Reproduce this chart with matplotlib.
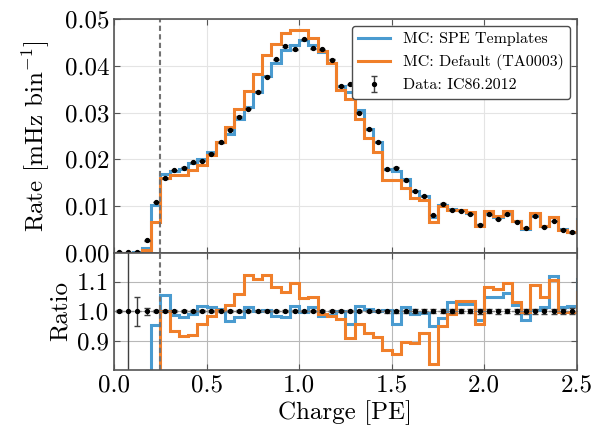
import numpy as np
import matplotlib
matplotlib.use('Agg')
import matplotlib.pyplot as plt

plt.rcParams['font.family'] = 'serif'
plt.rcParams['font.serif'] = ['cmr10']
plt.rcParams['mathtext.fontset'] = 'cm'
plt.rcParams['axes.formatter.use_mathtext'] = True

# 0.05 PE bins, last one lies just past the axis edge
edges = np.linspace(0, 2.55, 52)

data = [0.00001, 0.00005, 0.0002, 0.0026, 0.0108, 0.0159, 0.0177, 0.0182, 0.0193, 0.0196,
        0.0212, 0.0236, 0.0263, 0.0291, 0.0308, 0.0345, 0.0377, 0.0414, 0.0443, 0.0436,
        0.0457, 0.0438, 0.0436, 0.0413, 0.0357, 0.0361, 0.0300, 0.0264, 0.0237, 0.0178,
        0.0182, 0.0155, 0.0132, 0.0121, 0.0080, 0.0105, 0.0091, 0.0089, 0.0083, 0.0060,
        0.0082, 0.0072, 0.0082, 0.0066, 0.0053, 0.0078, 0.0055, 0.0068, 0.0049, 0.0043,
        0.0064]

data_rel_err = [0.003, 1.5, 0.05, 0.012, 0.004, 0.003, 0.003, 0.003, 0.003, 0.003,
                0.003, 0.003, 0.003, 0.003, 0.003, 0.003, 0.003, 0.003, 0.003, 0.003,
                0.003, 0.003, 0.003, 0.003, 0.003, 0.003, 0.004, 0.004, 0.004, 0.005,
                0.005, 0.005, 0.006, 0.006, 0.007, 0.006, 0.007, 0.007, 0.007, 0.008,
                0.007, 0.008, 0.007, 0.008, 0.009, 0.008, 0.009, 0.008, 0.009, 0.010,
                0.009]

# MC / data
ratio_spe = [0.0, 0.0, 0.25, 0.35, 0.952, 1.056, 0.986, 0.98, 0.992, 1.018,
             1.013, 1.007, 0.967, 0.98, 1.013, 1.0, 1.003, 0.984, 0.98, 1.018,
             0.999, 1.015, 0.984, 0.986, 1.0, 0.955, 1.018, 1.007, 1.0, 1.003,
             0.957, 1.013, 0.992, 0.995, 0.95, 0.978, 1.032, 1.026, 1.024, 0.97,
             1.047, 1.05, 1.061, 1.022, 0.97, 1.005, 1.015, 1.12, 1.013, 1.018,
             1.11]

ratio_default = [0.0, 0.0, 0.0, 0.23, 0.61, 1.0, 0.934, 0.915, 0.92, 0.955,
                 0.985, 1.003, 1.022, 1.059, 1.122, 1.11, 1.124, 1.082, 1.064, 1.095,
                 1.044, 1.049, 0.992, 0.984, 0.975, 0.91, 0.955, 0.926, 0.911, 0.869,
                 0.855, 0.895, 0.892, 0.926, 0.82, 0.95, 0.99, 1.036, 1.036, 0.955,
                 1.082, 1.076, 1.097, 1.032, 0.999, 1.09, 1.049, 1.107, 0.999, 0.999,
                 1.064]

data = np.array(data)
data_err = data * np.array(data_rel_err)
mc_spe = data * np.array(ratio_spe)
mc_default = data * np.array(ratio_default)
centers = 0.5 * (edges[1:] + edges[:-1])

c_blue = '#4a9bd0'
c_orange = '#f07f2a'
spine_col = '#555555'

fig = plt.figure(figsize=(6.13, 4.29), dpi=100)
ax = fig.add_axes([0.1863, 0.4114, 0.7545, 0.5436])
axr = fig.add_axes([0.1863, 0.1375, 0.7545, 0.2739], sharex=ax)

# top panel
ax.stairs(mc_spe, edges, baseline=None, color=c_blue, lw=2.2, label='MC: SPE Templates')
ax.stairs(mc_default, edges, baseline=None, color=c_orange, lw=2.2, label='MC: Default (TA0003)')
ax.errorbar(centers, data, yerr=data_err, fmt='o', color='black', ms=2.8,
            ecolor='0.25', elinewidth=1, capsize=2.5, label='Data: IC86.2012')
ax.axvline(0.25, color='0.45', lw=1.5, dashes=(2.5, 1.6))
ax.set_xlim(0, 2.5)
ax.set_ylim(0, 0.05)
ax.set_yticks([0.0, 0.01, 0.02, 0.03, 0.04, 0.05])
ax.set_yticklabels(['0.00', '0.01', '0.02', '0.03', '0.04', '0.05'])
ax.set_ylabel(r'Rate [mHz bin$^{-1}$]', fontsize=18, labelpad=9)
ax.grid(True, color='#e4e4e4', lw=0.8)
ax.set_axisbelow(True)
ax.tick_params(labelbottom=False)
leg = ax.legend(loc='upper right', fontsize=11.5, frameon=True, fancybox=True,
                borderaxespad=0.4, handlelength=2.0)
leg.get_frame().set_edgecolor('0.3')
leg.get_frame().set_linewidth(1.0)
leg.get_frame().set_alpha(1)

# ratio panel
axr.stairs(ratio_spe, edges, baseline=None, color=c_blue, lw=2.2)
axr.stairs(ratio_default, edges, baseline=None, color=c_orange, lw=2.2)
axr.axhline(1.0, color='0.5', lw=1, ls='--')
axr.errorbar(centers, np.ones(len(centers)), yerr=data_rel_err, fmt='o', color='black',
             ms=2.8, ecolor='0.25', elinewidth=1, capsize=2.5)
axr.axvline(0.25, color='0.45', lw=1.5, dashes=(2.5, 1.6))
axr.set_ylim(0.8, 1.2)
axr.set_yticks([0.9, 1.0, 1.1])
axr.set_yticklabels(['0.9', '1.0', '1.1'])
axr.set_xticks([0.0, 0.5, 1.0, 1.5, 2.0, 2.5])
axr.set_xticklabels(['0.0', '0.5', '1.0', '1.5', '2.0', '2.5'])
axr.set_ylabel('Ratio', fontsize=18)
axr.set_xlabel('Charge [PE]', fontsize=18, labelpad=2)
axr.grid(True, color='#b8b8b8', lw=0.8)
axr.set_axisbelow(True)

for a in (ax, axr):
    a.tick_params(direction='in', top=True, right=True, labelsize=18,
                  length=4, width=0.8, color=spine_col)
    for s in a.spines.values():
        s.set_color(spine_col)
        s.set_linewidth(1.2)

fig.savefig('out.png', dpi=100)
